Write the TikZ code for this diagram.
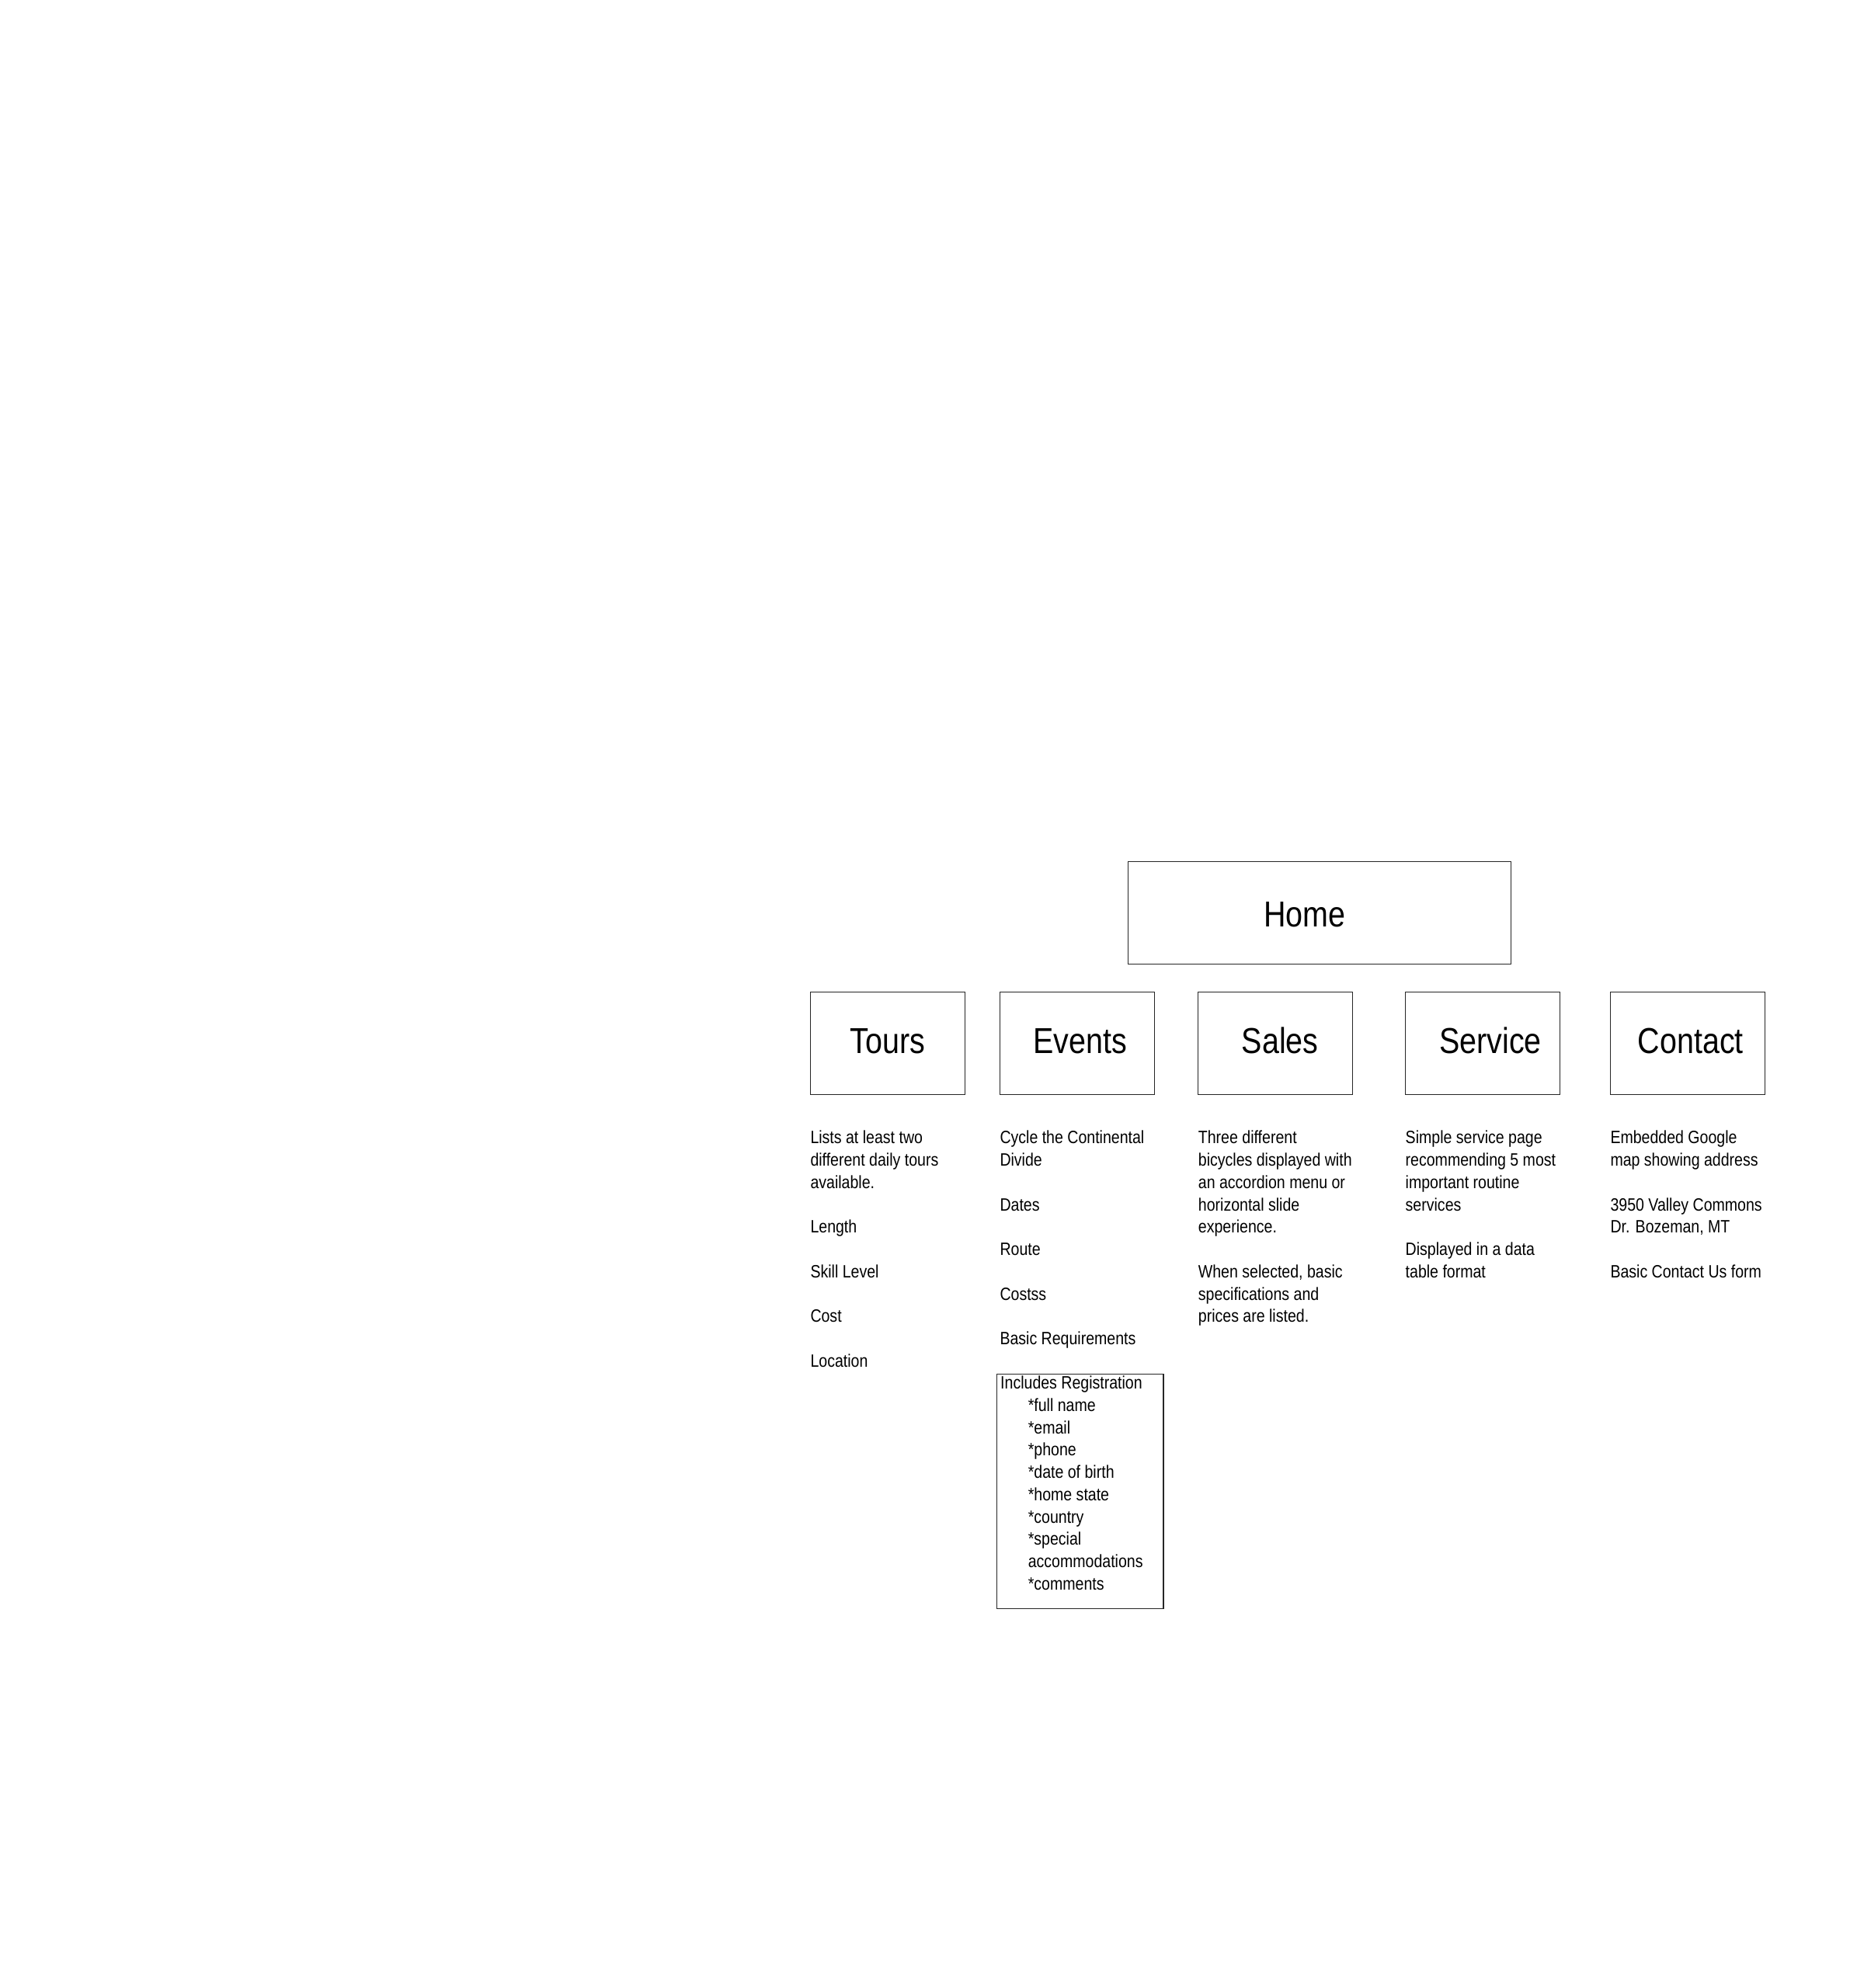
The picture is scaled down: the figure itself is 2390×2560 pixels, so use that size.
\documentclass[tikz,border=0pt]{standalone}
\usepackage{fontspec}
\setmainfont{Liberation Sans}[FakeStretch=0.85]
\usetikzlibrary{positioning}

\newcommand{\notesize}{\fontsize{5.75pt}{7.1875pt}\selectfont}
\newcommand{\titlesize}{\fontsize{11.6pt}{14pt}\selectfont}
\newcommand{\topline}{\rule{0pt}{5pt}}

\begin{document}
\begin{tikzpicture}[
		x=0.25pt, y=-0.25pt,
		PageBox/.style={
			draw=black!85, line width=0.3pt, inner sep=0pt,
			minimum width=49.75pt, minimum height=33pt,
			text height=6.35pt, text depth=0pt,
			font=\titlesize
		},
		NoteText/.style={
			anchor=north west, align=left, inner sep=0pt,
			font=\notesize
		},
		RegFrame/.style={
			draw=black!85, line width=0.3pt, inner sep=0pt, anchor=north west,
			minimum width=53.7pt, minimum height=75.6pt
		}
		]
		\useasboundingbox (0,0) rectangle (2390,2560);
		
		\node [PageBox, minimum width=123.25pt, text height=9.1pt] (Home) at (1699,1175.4) {Home\kern9.5pt};
		
		\path
		(1142.8,1343.3) node [PageBox] (Tours) {Tours}
		++ (244,0) node [PageBox] (Events) {\kern2pt Events}
		++ (255.4,0) node [PageBox] (Sales) {\kern3pt Sales}
		++ (266.8,0) node [PageBox] (Service) {\kern5pt Service}
		++ (263.8,0) node [PageBox] (Contact) {\kern2pt Contact};
		
		\node [NoteText] (ToursNote) at ([yshift=-10.55pt]Tours.south west)
		{\topline Lists at least two\\ different daily tours\\ available.\\ \\ Length\\ \\ Skill Level\\ \\ Cost\\ \\ Location};
		\node [NoteText] (EventsNote) at ([yshift=-10.55pt]Events.south west)
		{\topline Cycle the Continental\\ Divide\\ \\ Dates\\ \\ Route\\ \\ Costss\\ \\ Basic Requirements};
		\node [NoteText] (SalesNote) at ([yshift=-10.55pt]Sales.south west)
		{\topline Three different\\ bicycles displayed with\\ an accordion menu or\\ horizontal slide\\ experience.\\ \\ When selected, basic\\ specifications and\\ prices are listed.};
		\node [NoteText] (ServiceNote) at ([yshift=-10.55pt]Service.south west)
		{\topline Simple service page\\ recommending 5 most\\ important routine\\ services\\ \\ Displayed in a data\\ table format};
		\node [NoteText] (ContactNote) at ([yshift=-10.55pt]Contact.south west)
		{\topline Embedded Google\\ map showing address\\ \\ 3950 Valley Commons\\ Dr. Bozeman, MT\\ \\ Basic Contact Us form};
		
		% registration fields
		\node [RegFrame] (RegBox) at (1282.6,1768.75) {};
		\node [NoteText] (RegNote) at ([shift={(1.2pt,0.25pt)}]RegBox.north west)
		{\topline Includes Registration\\
			\hspace*{8.9pt}*full name\\
			\hspace*{8.9pt}*email\\
			\hspace*{8.9pt}*phone\\
			\hspace*{8.9pt}*date of birth\\
			\hspace*{8.9pt}*home state\\
			\hspace*{8.9pt}*country\\
			\hspace*{8.9pt}*special\\
			\hspace*{8.9pt}accommodations\\
			\hspace*{8.9pt}*comments};
		
\end{tikzpicture}
\end{document}
